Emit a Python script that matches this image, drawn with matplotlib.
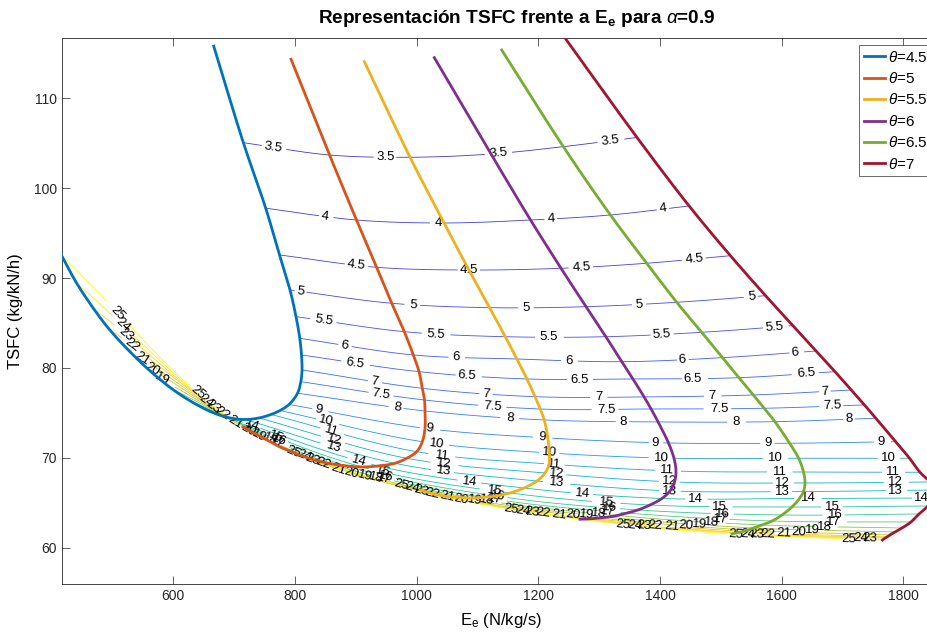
import numpy as np
import matplotlib.pyplot as plt
from matplotlib.colors import LinearSegmentedColormap

plt.rcParams['font.family'] = ['Liberation Sans', 'DejaVu Sans']
plt.rcParams['mathtext.fontset'] = 'custom'
plt.rcParams['mathtext.rm'] = 'Liberation Sans'
plt.rcParams['mathtext.it'] = 'Liberation Sans:italic'
plt.rcParams['mathtext.bf'] = 'Liberation Sans:bold'

# compression ratio levels of the contour lines
PI_LEVELS = [3.5, 4, 4.5, 5, 5.5, 6, 6.5, 7, 7.5, 8, 9, 10, 11, 12, 13, 14,
             15, 16, 17, 18, 19, 20, 21, 22, 23, 24, 25]
THETAS = [4.5, 5, 5.5, 6, 6.5, 7]

# E_e (N/kg/s) and TSFC (kg/kN/h) at every level, one list per theta
E_45 = [715.1, 751.9, 774.6, 791.8, 801.7, 807.9, 810.7, 811.6, 809.6, 804.2,
        790.2, 775.4, 760.6, 740.9, 717.9, 693.2, 668.5, 645.5, 622.5, 597.9,
        573.2, 548.1, 520.6, 493.2, 468.5, 441.2, 416.5]
T_45 = [105.06, 97.77, 92.57, 88.68, 85.71, 83.30, 81.45, 79.78, 78.48, 77.19,
        75.94, 75.27, 74.83, 74.44, 74.27, 74.44, 74.94, 75.66, 76.55, 77.67,
        79.00, 80.52, 82.37, 84.42, 86.64, 89.42, 92.49]
E_50 = [856.8, 901.1, 934.3, 959.0, 979.7, 994.5, 1003.9, 1009.3, 1012.9, 1013.7,
        1013.7, 1009.3, 1000.1, 983.7, 964.4, 936.5, 910.2, 885.5, 860.9, 837.9,
        816.5, 795.1, 775.4, 757.3, 740.9, 726.1, 714.6]
T_50 = [103.69, 96.46, 91.20, 87.20, 84.04, 81.45, 79.59, 77.74, 76.44, 75.22,
        73.29, 71.80, 70.69, 69.96, 69.40, 69.10, 68.99, 69.10, 69.32, 69.66,
        70.10, 70.66, 71.21, 71.88, 72.44, 72.99, 73.44]
E_55 = [989.1, 1045.0, 1085.9, 1119.9, 1145.7, 1164.8, 1181.2, 1194.6, 1203.1, 1209.7,
        1215.6, 1218.1, 1217.6, 1211.0, 1197.9, 1176.5, 1153.5, 1130.5, 1109.1, 1089.4,
        1071.3, 1056.5, 1043.3, 1031.8, 1022.0, 1013.7, 1005.5]
T_55 = [103.44, 96.13, 90.90, 86.71, 83.48, 81.00, 78.78, 76.81, 75.44, 74.22,
        72.22, 70.55, 69.32, 68.32, 67.43, 66.65, 66.10, 65.76, 65.60, 65.54,
        65.60, 65.65, 65.76, 65.93, 66.10, 66.26, 66.43]
E_60 = [1122.2, 1187.2, 1237.3, 1278.4, 1311.0, 1337.2, 1355.5, 1373.9, 1385.4, 1396.9,
        1414.0, 1423.0, 1426.3, 1423.9, 1416.5, 1403.3, 1383.6, 1363.9, 1345.8, 1329.4,
        1314.6, 1301.4, 1291.5, 1283.3, 1276.7, 1271.8, 1268.5]
T_60 = [103.80, 96.46, 91.09, 86.82, 83.48, 80.70, 78.78, 76.78, 75.44, 74.00,
        71.66, 69.96, 68.54, 67.32, 66.33, 65.49, 64.76, 64.21, 63.87, 63.59,
        63.43, 63.32, 63.26, 63.21, 63.20, 63.19, 63.18]
E_65 = [1241.1, 1318.5, 1378.2, 1427.5, 1468.6, 1502.5, 1529.9, 1553.4, 1571.3, 1588.9,
        1613.1, 1627.9, 1635.9, 1638.4, 1635.9, 1629.4, 1617.0, 1600.6, 1584.2, 1567.8,
        1554.6, 1544.8, 1536.6, 1529.9, 1525.0, 1521.7, 1518.4]
T_65 = [104.62, 97.02, 91.65, 87.31, 83.97, 81.15, 78.92, 77.00, 75.52, 74.03,
        71.63, 69.96, 68.43, 67.21, 66.26, 65.49, 64.54, 63.65, 62.98, 62.54,
        62.20, 61.98, 61.82, 61.70, 61.65, 61.59, 61.54]
E_70 = [1362.2, 1447.9, 1515.8, 1573.6, 1618.5, 1656.8, 1687.7, 1714.5, 1736.1, 1754.8,
        1787.5, 1810.2, 1827.4, 1843.9, 1852.1, 1850.4, 1840.6, 1825.8, 1812.6, 1797.8,
        1786.3, 1778.1, 1773.2, 1769.9, 1768.3, 1766.6, 1765.8]
T_70 = [105.64, 98.02, 92.49, 88.04, 84.71, 81.89, 79.59, 77.55, 75.89, 74.41,
        71.80, 69.96, 68.40, 67.32, 66.43, 65.54, 64.65, 63.76, 62.87, 62.20,
        61.76, 61.43, 61.20, 61.09, 60.98, 60.93, 60.87]

# lowest-compression end of each theta curve
E_START = [666.4, 793.5, 914.0, 1029.0, 1139.8, 1245.0]
T_START = [115.80, 114.34, 114.07, 114.52, 115.37, 116.60]

THETA_COLORS = ['#0072BD', '#D95319', '#EDB120', '#7E2F8E', '#77AC30', '#A2142F']
# where the first label of each contour sits (pixels along the line)
LABEL_FIRST = [30, 60, 77, 11, 28, 45, 54, 73, 81, 101, 30, 47, 63, 78, 93, 23,
               65, 85, 100, 110, 5, 12, 21, 29, 42, 62, 80]
LABEL_STEP = 113

parula = LinearSegmentedColormap.from_list('parula', [
    (0.2422, 0.1504, 0.6603), (0.2803, 0.2782, 0.9221), (0.2206, 0.4603, 0.9973),
    (0.1248, 0.6459, 0.8883), (0.0433, 0.7411, 0.7394), (0.2470, 0.7918, 0.5567),
    (0.7242, 0.7698, 0.1910), (0.9952, 0.7893, 0.2028), (0.9769, 0.9839, 0.0805)])
norm = plt.Normalize(2.0, 25)

E_grid = np.array([E_45, E_50, E_55, E_60, E_65, E_70])
T_grid = np.array([T_45, T_50, T_55, T_60, T_65, T_70])

fig = plt.figure(figsize=(9.28, 6.37), dpi=100)
ax = fig.add_axes([61.7 / 928, 52.7 / 637, 878.3 / 928, 546.0 / 637])
ax.set_xlim(416.5, 1860.3)
ax.set_ylim(55.94, 116.67)

to_px = ax.transData
to_data = to_px.inverted()
fs_lab = 9.5
fs_px = fs_lab * 100 / 72


def smooth(pts, n=24):
    # centripetal Catmull-Rom through the given display points
    P = np.vstack([2 * pts[0] - pts[1], pts, 2 * pts[-1] - pts[-2]])
    out = []
    for i in range(1, len(P) - 2):
        p0, p1, p2, p3 = P[i - 1:i + 3]
        t0 = 0.0
        t1 = t0 + max(np.linalg.norm(p1 - p0), 1e-6) ** 0.5
        t2 = t1 + max(np.linalg.norm(p2 - p1), 1e-6) ** 0.5
        t3 = t2 + max(np.linalg.norm(p3 - p2), 1e-6) ** 0.5
        t = np.linspace(t1, t2, n, endpoint=False)[:, None]
        a1 = (t1 - t) / (t1 - t0) * p0 + (t - t0) / (t1 - t0) * p1
        a2 = (t2 - t) / (t2 - t1) * p1 + (t - t1) / (t2 - t1) * p2
        a3 = (t3 - t) / (t3 - t2) * p2 + (t - t2) / (t3 - t2) * p3
        b1 = (t2 - t) / (t2 - t0) * a1 + (t - t0) / (t2 - t0) * a2
        b2 = (t3 - t) / (t3 - t1) * a2 + (t - t1) / (t3 - t1) * a3
        out.append((t2 - t) / (t2 - t1) * b1 + (t - t1) / (t2 - t1) * b2)
    out.append(pts[-1:])
    return np.vstack(out)


def text_width(s):
    return sum(0.556 if c.isdigit() else 0.278 for c in s) * fs_px


for j, lev in enumerate(PI_LEVELS):
    pts = smooth(to_px.transform(np.column_stack([E_grid[:, j], T_grid[:, j]])))
    s = np.concatenate([[0], np.cumsum(np.hypot(*np.diff(pts, axis=0).T))])
    keep = np.ones(len(s), bool)
    txt = f'{lev:g}'
    w = text_width(txt)
    pos = LABEL_FIRST[j]
    while pos + w / 2 < s[-1]:
        k = int(np.clip(np.searchsorted(s, pos), 1, len(s) - 1))
        dx, dy = pts[min(k + 2, len(s) - 1)] - pts[max(k - 3, 0)]
        ang = np.degrees(np.arctan2(dy, dx))
        if ang > 90:
            ang -= 180
        if ang < -90:
            ang += 180
        xd, yd = to_data.transform((np.interp(pos, s, pts[:, 0]),
                                    np.interp(pos, s, pts[:, 1])))
        ax.text(xd, yd, txt, rotation=ang, rotation_mode='anchor', ha='center',
                va='center', fontsize=fs_lab, color='black', zorder=3, clip_on=True)
        keep &= np.abs(s - pos) > w / 2 + 2
        pos += LABEL_STEP
    line = pts.copy()
    line[~keep] = np.nan
    data = to_data.transform(line)
    ax.plot(data[:, 0], data[:, 1], color=parula(norm(lev)), lw=0.6, zorder=2)

for i, th in enumerate(THETAS):
    pts = to_px.transform(np.column_stack([[E_START[i]] + list(E_grid[i]),
                                           [T_START[i]] + list(T_grid[i])]))
    data = to_data.transform(smooth(pts))
    ax.plot(data[:, 0], data[:, 1], color=THETA_COLORS[i], lw=2, zorder=4,
            label=rf'$\theta$={th:g}')

ax.set_xticks([600, 800, 1000, 1200, 1400, 1600, 1800])
ax.set_yticks([60, 70, 80, 90, 100, 110])
ax.tick_params(direction='in', length=6, width=0.5, top=True, right=True,
               labelsize=10, colors='#262626')
for sp in ax.spines.values():
    sp.set_linewidth(0.6)
    sp.set_color('#262626')

ax.set_title(r'Representación TSFC frente a E$_\mathbf{e}$ para $\alpha$=0.9',
             fontsize=13.7, fontweight='bold', pad=11, x=0.5184)
ax.set_xlabel(r'E$_\mathrm{e}$ (N/kg/s)', fontsize=12, labelpad=6)
ax.set_ylabel('TSFC (kg/kN/h)', fontsize=12, labelpad=8)

leg = ax.legend(loc='upper left', bbox_to_anchor=(0.9078, 0.9877), fontsize=11,
                frameon=True, fancybox=False, labelspacing=0.42, handlelength=1.4,
                handletextpad=0.2, borderpad=0.3, borderaxespad=0)
leg.get_frame().set_edgecolor('#262626')
leg.get_frame().set_linewidth(0.6)

fig.savefig('out.png', dpi=100)
